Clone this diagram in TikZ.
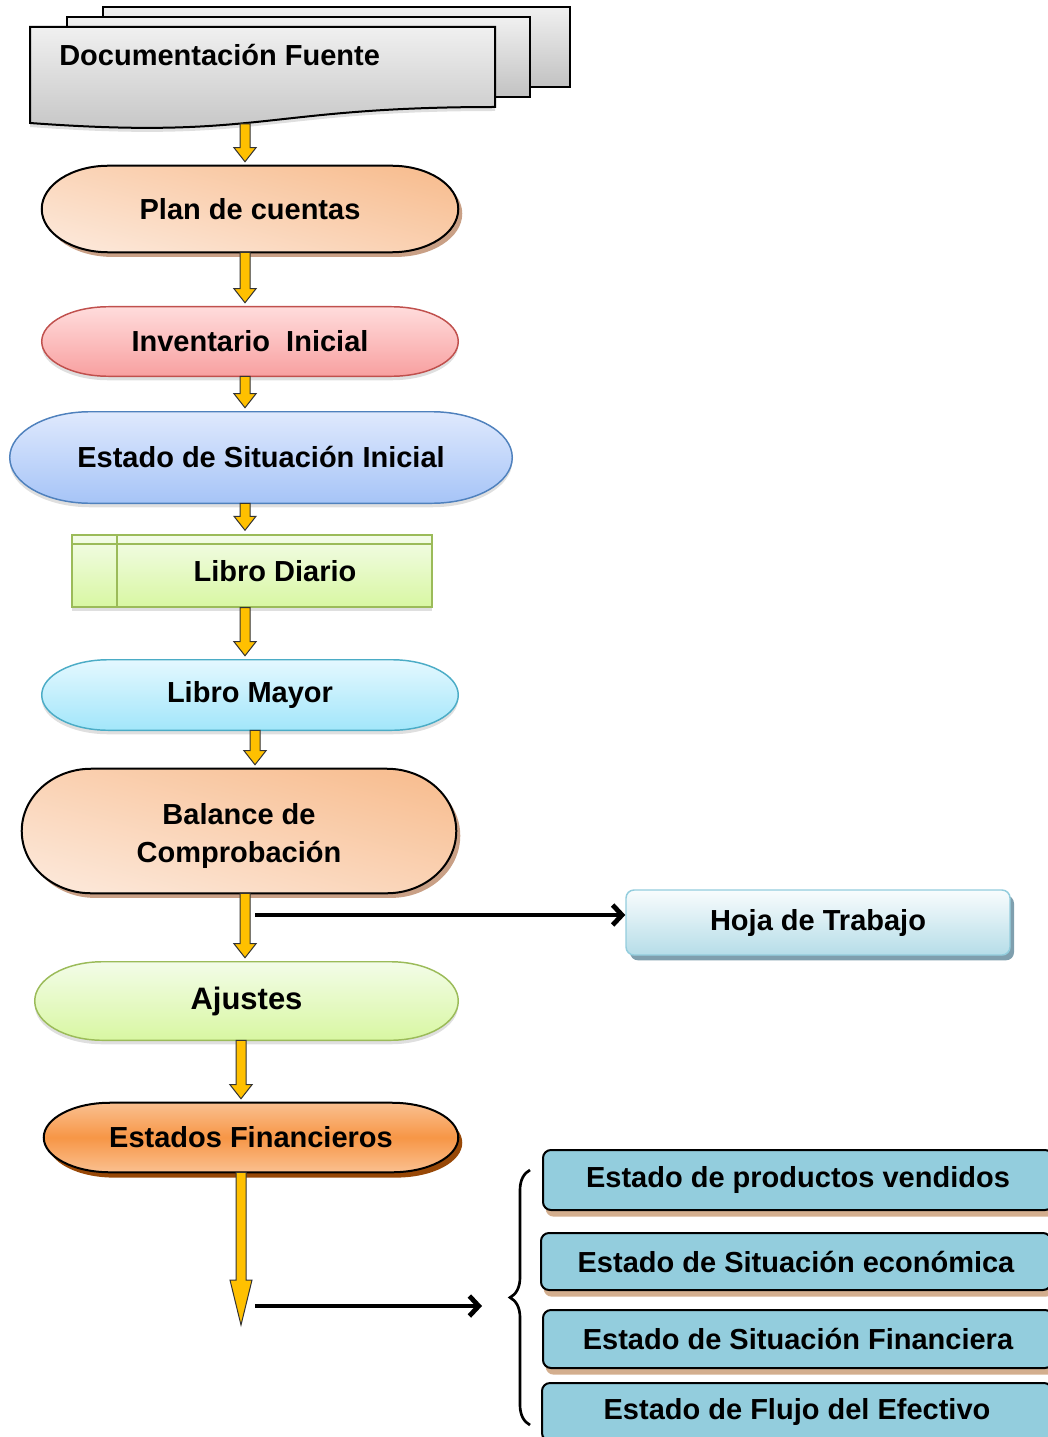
\documentclass[tikz,border=0pt]{standalone}
\usepackage{fontspec}
\setmainfont{Liberation Sans}
\usepackage{xcolor}
\usetikzlibrary{positioning, calc, shadows, arrows.meta, decorations.pathreplacing}

\definecolor{gold}{HTML}{FFC000}
\definecolor{doctop}{HTML}{F0F0F0}
\definecolor{docbot}{HTML}{C2C2C2}
\definecolor{peachdk}{HTML}{F8BF93}
\definecolor{peachlt}{HTML}{FCE6D6}
\definecolor{peachsh}{HTML}{C9A086}
\definecolor{invline}{HTML}{C0504D}
\definecolor{invtop}{HTML}{FFDCDC}
\definecolor{invbot}{HTML}{F8A0A0}
\definecolor{esiline}{HTML}{4F81BD}
\definecolor{esitop}{HTML}{DFE9FD}
\definecolor{esibot}{HTML}{A6C4F7}
\definecolor{grnline}{HTML}{9BBB59}
\definecolor{grntop}{HTML}{F3FCE8}
\definecolor{grnbot}{HTML}{D8F7A2}
\definecolor{mayline}{HTML}{4BACC6}
\definecolor{maytop}{HTML}{E4F8FF}
\definecolor{maybot}{HTML}{A2E6FA}
\definecolor{hojaline}{HTML}{93CDDD}
\definecolor{hojatop}{HTML}{F8FCFD}
\definecolor{hojabot}{HTML}{B6DDE8}
\definecolor{hojash}{HTML}{7F9FAE}
\definecolor{efmid}{HTML}{F79646}
\definecolor{efedge}{HTML}{FAC090}
\definecolor{efsh}{HTML}{984807}
\definecolor{finfill}{HTML}{93CDDD}
\definecolor{finsh}{HTML}{D3AE8E}

\pgfdeclarelayer{back}
\pgfsetlayers{back,main}

% terminator outline behind node #1, drawn with style #2
\newcommand\termshape[2]{%
  \begin{pgfonlayer}{back}
  \path[#2] let \p1=(#1.south west), \p2=(#1.north east),
      \n1={0.16*(\x2-\x1)}, \n2={(\y2-\y1)/2} in
    (\x1+\n1*1pt,\y2) -- (\x2-\n1*1pt,\y2)
    arc[start angle=90, end angle=-90, x radius=\n1*1pt, y radius=\n2*1pt]
    -- (\x1+\n1*1pt,\y1)
    arc[start angle=270, end angle=90, x radius=\n1*1pt, y radius=\n2*1pt] -- cycle;
  \end{pgfonlayer}}

% yellow block arrow going down from #2 to #3, head length #1
\newcommand\yarrow[3][10.5pt]{%
  \path[yarr] let \p1=(#2), \p2=(#3) in
    (\x1-3.75pt,\y1) -- (\x1-3.75pt,\y2+3pt+#1) -- (\x1-8.25pt,\y2+3pt+#1)
    -- (\x1,\y2+3pt) -- (\x1+8.25pt,\y2+3pt+#1) -- (\x1+3.75pt,\y2+3pt+#1)
    -- (\x1+3.75pt,\y1) -- cycle;}

\begin{document}
\begin{tikzpicture}
[x=0.75pt, y=-0.75pt,
txt/.style={font=\bfseries\fontsize{21.75}{28.5}\selectfont, inner sep=0pt, align=center},
soft/.style={drop shadow={shadow xshift=0pt, shadow yshift=-3pt, opacity=0.25}},
peach/.style={draw=black, line width=1.5pt, top color=peachdk, bottom color=peachlt, shading angle=-15,
  drop shadow={shadow xshift=3pt, shadow yshift=-3.5pt, fill=peachsh, opacity=1}},
docpage/.style={draw=black, line width=1.5pt, top color=doctop, bottom color=docbot},
yarr/.style={fill=gold, draw=black!80, line width=0.75pt},
link/.style={line width=3.6pt, -{Straight Barb[length=7pt, width=15pt]}},
fin/.style={txt, rounded corners=6pt, draw=black, line width=1.5pt, fill=finfill, minimum width=382.5pt,
  drop shadow={shadow xshift=2pt, shadow yshift=-5pt, fill=finsh, opacity=1}},
]
\useasboundingbox (0,0) rectangle (1047,1437);

% source documents
\draw[docpage] (103,7) rectangle (570,87);
\draw[docpage] (67,17) rectangle (530,97);
\draw[docpage, soft] (30,27) -- (495,27) -- (495,107) .. controls (262,107) and (262,140) .. (30,123) -- cycle;
\node[txt, anchor=west] (docs) at (59,55) {Documentación Fuente};
\coordinate (docfoot) at (245,124);

\coordinate (s1) at (245,0);
\coordinate (s2) at (255,0);
\coordinate (s3) at (241,0);

\node[txt, minimum width=312pt, minimum height=64.5pt] (plan) at (250,209) {Plan de cuentas};
\termshape{plan}{peach}

\node[txt, minimum width=312pt, minimum height=51.75pt] (inv) at (250,341.5) {Inventario\ \ Inicial};
\termshape{inv}{draw=invline, line width=1.1pt, top color=invtop, bottom color=invbot, soft}

\node[txt, minimum width=376.5pt, minimum height=68.25pt] (esi) at (261,457.5) {Estado de Situación Inicial};
\termshape{esi}{draw=esiline, line width=1.1pt, top color=esitop, bottom color=esibot, soft}

\node[txt, draw=grnline, line width=1.1pt, top color=grntop, bottom color=grnbot, soft,
  minimum width=270pt, minimum height=54pt,
  path picture={
    \draw[grnline, line width=1.1pt] ([xshift=33.75pt]path picture bounding box.north west) -- ([xshift=33.75pt]path picture bounding box.south west);
    \draw[grnline, line width=1.1pt] ([yshift=-6.75pt]path picture bounding box.north west) -- ([yshift=-6.75pt]path picture bounding box.north east);
  }] (diario) at (252,571) {\hspace*{34.5pt}Libro Diario};

\node[txt, minimum width=312pt, minimum height=52.5pt] (mayor) at (250,695) {Libro Mayor};
\termshape{mayor}{draw=mayline, line width=1.1pt, top color=maytop, bottom color=maybot, soft}

\node[txt, minimum width=325.5pt, minimum height=93pt] (balance) at (239,831) {\rule{0pt}{23.5pt}Balance de\\Comprobación};
\termshape{balance}{peach}

\node[txt, rounded corners=6pt, draw=hojaline, line width=1.1pt, top color=hojatop, bottom color=hojabot,
  drop shadow={shadow xshift=3pt, shadow yshift=-4pt, fill=hojash, opacity=1},
  minimum width=288pt, minimum height=48.75pt] (hoja) at (818,922.5) {Hoja de Trabajo};

\node[txt, font=\bfseries\fontsize{23.25}{28}\selectfont, minimum width=317.25pt, minimum height=58.5pt] (ajustes) at (246.5,1001) {Ajustes};
\termshape{ajustes}{draw=grnline, line width=1.1pt, top color=grntop, bottom color=grnbot, soft}

\node[txt, minimum width=310.5pt, minimum height=51.75pt] (ef) at (251,1137.5) {Estados Financieros};
\termshape{ef}{draw=black, line width=1.5pt, top color=efedge, bottom color=efedge, middle color=efmid,
  drop shadow={shadow xshift=3pt, shadow yshift=-4pt, fill=efsh, opacity=1}}

\node[fin, minimum height=45pt] (pv) at (798,1180) {Estado de productos vendidos};
\node[fin, minimum height=42.75pt] (sec) at (796,1261.5) {Estado de Situación económica};
\node[fin, minimum height=43.5pt] (sfin) at (798,1339) {Estado de Situación Financiera};
\node[fin, minimum height=43.5pt] (flujo) at (797,1412) {Estado de Flujo del Efectivo};

% flow arrows
\yarrow{docfoot}{plan.north -| s1}
\yarrow{plan.south -| s1}{inv.north -| s1}
\yarrow{inv.south -| s1}{esi.north -| s1}
\yarrow{esi.south -| s1}{diario.north -| s1}
\yarrow{diario.south -| s1}{mayor.north -| s1}
\yarrow{mayor.south -| s2}{balance.north -| s2}
\yarrow{balance.south -| s1}{ajustes.north -| s1}
\yarrow{ajustes.south -| s3}{ef.north -| s3}
\coordinate (fend) at (241,1329);
\yarrow[33.75pt]{ef.south -| s3}{fend}

\coordinate (hfrom) at (255,915);
\draw[link] (hfrom) -- (hfrom -| hoja.west);

\coordinate (efrom) at (255,1306);
\coordinate (eto) at (482,1306);
\draw[link] (efrom) -- (eto);

\coordinate (brbot) at (530,1425);
\coordinate (brtop) at (530,1170);
\draw[decorate, decoration={brace, amplitude=15pt}, line width=2pt] (brbot) -- (brtop);
\end{tikzpicture}
\end{document}
